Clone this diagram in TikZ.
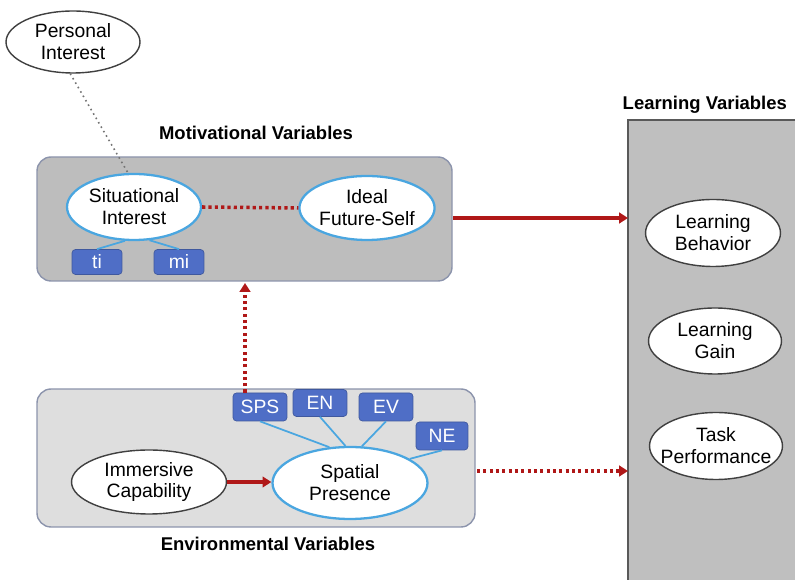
\documentclass[tikz,border=0pt]{standalone}
\usepackage{fontspec}
\setmainfont{Liberation Sans}
\usetikzlibrary{shapes.geometric,arrows.meta}
\definecolor{darkred}{HTML}{B01818}
\definecolor{skyline}{HTML}{4AA6E0}
\definecolor{tagblue}{HTML}{4F6EC6}
\definecolor{frameblue}{HTML}{8C94AC}
\tikzset{
  var/.style={ellipse, draw=black!75, fill=white, line width=0.8pt, align=center,
    font=\fontsize{11}{12.5}\selectfont, inner sep=0pt},
  latent/.style={var, draw=skyline, line width=1.3pt},
  tag/.style={rectangle, rounded corners=2pt, draw=tagblue!80!black, fill=tagblue,
    text=white, font=\fontsize{11}{12}\selectfont, inner sep=0pt},
  title/.style={font=\fontsize{10.5}{12}\selectfont\bfseries},
  grp/.style={draw=frameblue, line width=0.8pt, rounded corners=8pt},
  effect/.style={draw=darkred, line width=1.8pt, -{Triangle[length=5pt,width=6pt]}},
  dots/.style={dash pattern=on 1.8pt off 1.8pt},
}
\begin{document}
\begin{tikzpicture}[x=0.02cm, y=-0.02cm]
  \useasboundingbox (0,0) rectangle (795,580);

  % group boxes
  \draw[grp, fill=black!26] (37,157) rectangle (452,281);
  \draw[grp, fill=black!13] (37,389) rectangle (475,527);
  \fill[black!25] (628,120) rectangle (795,580);
  \draw[black!65, line width=1pt] (628,580) |- (795,120);

  \node[title] (motlbl) at (256,133) {Motivational Variables};
  \node[title] (envlbl) at (268,544) {Environmental Variables};
  \node[title, anchor=east] (learnlbl) at (793,105) {Learning Variables};
  \coordinate (motR) at (453,218);
  \coordinate (motB) at (245,283);
  \coordinate (envR) at (477,471);
  \coordinate (learnA) at (628,218);
  \coordinate (learnB) at (628,471);

  % motivational
  \node[var, minimum width=2.68cm, minimum height=1.24cm] (pi) at (73,42) {Personal\\Interest};
  \node[latent, minimum width=2.68cm, minimum height=1.32cm] (si) at (134,207) {Situational\\Interest};
  \node[latent, minimum width=2.68cm, minimum height=1.28cm] (ifs) at (367,208) {Ideal\\Future-Self};
  \node[tag, minimum width=1cm, minimum height=0.5cm] (ti) at (97,262) {ti};
  \node[tag, minimum width=1cm, minimum height=0.5cm] (mi) at (179,262) {mi};

  % environmental
  \node[var, minimum width=3.1cm, minimum height=1.28cm] (ic) at (149,482) {Immersive\\Capability};
  \node[latent, minimum width=3.1cm, minimum height=1.44cm] (sp) at (350,483) {Spatial\\Presence};
  \node[tag, minimum width=1.08cm, minimum height=0.56cm] (sps) at (260,407) {SPS};
  \node[tag, minimum width=1.08cm, minimum height=0.54cm] (en) at (320,403) {EN};
  \node[tag, minimum width=1.08cm, minimum height=0.56cm] (ev) at (386,407) {EV};
  \node[tag, minimum width=1.04cm, minimum height=0.56cm] (ne) at (442,436) {NE};

  % learning
  \node[var, minimum width=2.7cm, minimum height=1.34cm] (lb) at (713,233) {Learning\\Behavior};
  \node[var, minimum width=2.66cm, minimum height=1.32cm] (lg) at (715,341) {Learning\\Gain};
  \node[var, minimum width=2.66cm, minimum height=1.34cm, inner xsep=-8pt] (tp) at (716,446) {Task\\Performance};

  % indicators
  \draw[skyline, line width=1pt] (si.-105) -- (ti.north);
  \draw[skyline, line width=1pt] (si.-65) -- (mi.north);
  \draw[skyline, line width=1pt] (sps.south) -- (sp.120);
  \draw[skyline, line width=1pt] (en.south) -- (sp.97);
  \draw[skyline, line width=1pt] (ev.south) -- (sp.72);
  \draw[skyline, line width=1pt] (ne.south) -- (sp.22);

  % paths
  \draw[black!55, line width=0.9pt, dotted] (pi.-95) -- (si.100);
  \draw[darkred, line width=2pt, dots] (si.east) -- (ifs.west);
  \draw[effect] (ic.east) -- (ic.east -| sp.west);
  \draw[effect] (motR) -- (learnA);
  \draw[effect, dots] (envR) -- (learnB);
  \draw[effect, dots] (motB |- sps.north) -- (motB);
\end{tikzpicture}
\end{document}
